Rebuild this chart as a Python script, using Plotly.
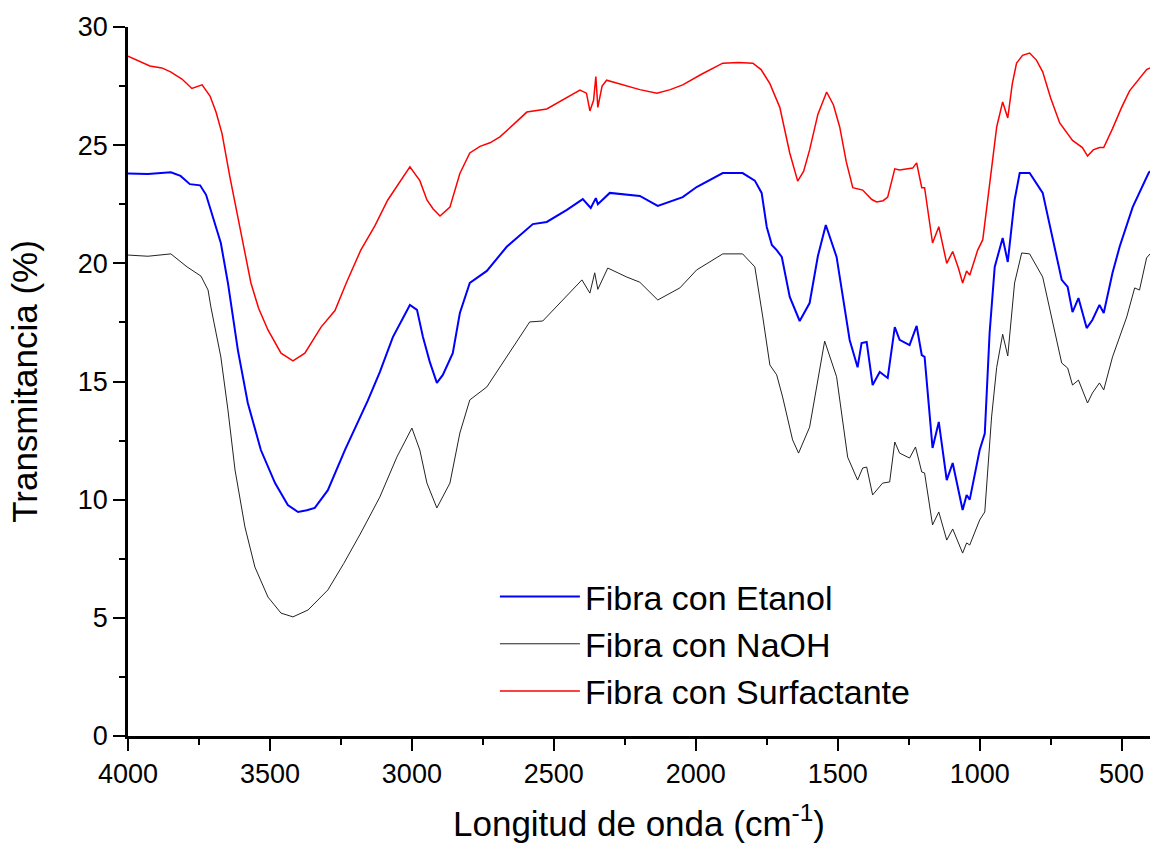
import plotly.graph_objects as go

# Fibra con Surfactante (red)
wn_surf = [4000, 3960, 3923, 3881, 3850, 3810, 3775, 3739, 3711, 3690, 3669, 3641, 3613, 3590, 3567, 3540,
           3507, 3461, 3419, 3377, 3320, 3271, 3230, 3180, 3130, 3085, 3040, 3007, 2972, 2947, 2925, 2901,
           2866, 2831, 2796, 2760, 2725, 2690, 2640, 2595, 2525, 2470, 2408, 2385, 2373, 2360, 2352, 2345,
           2330, 2314, 2270, 2233, 2197, 2137, 2090, 2046, 1980, 1905, 1850, 1799, 1770, 1739, 1704, 1669,
           1641, 1620, 1599, 1570, 1539, 1515, 1493, 1470, 1447, 1412, 1380, 1363, 1340, 1324, 1299, 1282,
           1236, 1222, 1204, 1194, 1166, 1144, 1116, 1095, 1075, 1060, 1046, 1035, 1007, 989, 965, 940,
           919, 901, 885, 870, 849, 824, 800, 778, 750, 718, 673, 638, 620, 600, 578, 563, 532, 500, 472,
           440, 412, 400]
t_surf = [28.77, 28.55, 28.35, 28.27, 28.1, 27.8, 27.4, 27.55, 27.08, 26.4, 25.5, 23.65, 21.96, 20.5, 19.17, 18.1,
          17.18, 16.2, 15.87, 16.2, 17.3, 18.0, 19.2, 20.56, 21.6, 22.68, 23.5, 24.08, 23.5, 22.68, 22.3, 22.0,
          22.38, 23.8, 24.67, 24.95, 25.1, 25.35, 25.9, 26.4, 26.53, 26.9, 27.33, 27.2, 26.45, 26.9, 27.9, 26.6,
          27.5, 27.75, 27.6, 27.5, 27.35, 27.2, 27.35, 27.55, 28.0, 28.47, 28.5, 28.47, 28.2, 27.6, 26.6, 24.67,
          23.48, 23.9, 24.8, 26.3, 27.25, 26.7, 25.77, 24.3, 23.2, 23.1, 22.7, 22.6, 22.65, 22.8, 24.0, 23.95,
          24.03, 24.25, 23.2, 23.2, 20.86, 21.55, 20.0, 20.5, 19.8, 19.17, 19.68, 19.5, 20.56, 21.0, 23.4, 25.77,
          26.83, 26.15, 27.6, 28.47, 28.8, 28.9, 28.6, 28.1, 27.0, 25.94, 25.2, 24.9, 24.54, 24.8, 24.9, 24.9,
          25.7, 26.6, 27.3, 27.8, 28.2, 28.27]

# Fibra con Etanol (blue)
wn_etanol = [4000, 3930, 3849, 3815, 3782, 3746, 3725, 3708, 3673, 3648, 3613, 3578, 3532, 3482, 3437, 3401,
             3370, 3342, 3296, 3236, 3155, 3113, 3067, 3007, 2982, 2961, 2937, 2912, 2891, 2856, 2831, 2796,
             2736, 2666, 2574, 2525, 2454, 2398, 2370, 2352, 2345, 2303, 2243, 2197, 2134, 2046, 1997, 1905,
             1835, 1792, 1768, 1750, 1732, 1715, 1697, 1669, 1634, 1599, 1570, 1542, 1504, 1475, 1458, 1430,
             1416, 1398, 1377, 1352, 1324, 1299, 1282, 1247, 1222, 1204, 1194, 1166, 1144, 1116, 1095, 1060,
             1046, 1035, 1000, 982, 965, 947, 919, 901, 877, 859, 824, 778, 743, 711, 690, 673, 652, 623, 603,
             578, 563, 532, 507, 461, 405, 400]
t_etanol = [23.8, 23.78, 23.85, 23.7, 23.35, 23.3, 22.9, 22.26, 20.86, 19.17, 16.33, 14.09, 12.1, 10.7, 9.77, 9.48,
            9.55, 9.65, 10.4, 12.1, 14.2, 15.4, 16.88, 18.24, 18.03, 16.88, 15.83, 14.94, 15.28, 16.2, 17.9, 19.17,
            19.68, 20.7, 21.66, 21.75, 22.26, 22.72, 22.34, 22.76, 22.5, 22.98, 22.89, 22.85, 22.43, 22.8, 23.23, 23.82,
            23.82, 23.5, 22.98, 21.54, 20.78, 20.56, 20.27, 18.58, 17.56, 18.32, 20.3, 21.62, 20.27, 18.03, 16.76, 15.6,
            16.63, 16.67, 14.85, 15.4, 15.15, 17.3, 16.76, 16.54, 17.35, 16.12, 16.04, 12.19, 13.29, 10.83, 11.55, 9.56,
            10.2, 10.0, 12.1, 12.8, 17.05, 19.85, 21.07, 20.06, 22.68, 23.82, 23.82, 22.98, 21.0, 19.3, 19.0, 17.94,
            18.53, 17.26, 17.6, 18.24, 17.9, 19.6, 20.7, 22.38, 23.82, 23.9]

# Fibra con NaOH (black)
wn_naoh = [4000, 3930, 3849, 3792, 3743, 3718, 3708, 3673, 3648, 3623, 3588, 3553, 3507, 3461, 3419, 3366,
           3296, 3240, 3180, 3113, 3053, 3000, 2972, 2947, 2912, 2866, 2831, 2796, 2736, 2680, 2585, 2539,
           2479, 2401, 2373, 2356, 2345, 2310, 2243, 2197, 2134, 2056, 1997, 1905, 1835, 1792, 1764, 1739,
           1715, 1694, 1659, 1638, 1599, 1546, 1504, 1465, 1430, 1412, 1398, 1377, 1342, 1317, 1299, 1282,
           1247, 1226, 1204, 1194, 1166, 1144, 1116, 1095, 1060, 1046, 1035, 1000, 982, 958, 940, 919, 901,
           877, 852, 824, 778, 743, 711, 690, 673, 652, 620, 603, 578, 563, 532, 482, 454, 437, 412, 400]
t_naoh = [20.35, 20.3, 20.4, 19.85, 19.46, 18.87, 18.15, 16.04, 13.8, 11.26, 8.84, 7.15, 5.88, 5.2, 5.04, 5.33,
          6.18, 7.3, 8.59, 10.11, 11.8, 13.03, 12.1, 10.7, 9.65, 10.7, 12.82, 14.22, 14.77, 15.78, 17.52, 17.56,
          18.32, 19.3, 18.74, 19.6, 18.9, 19.8, 19.42, 19.2, 18.45, 18.96, 19.72, 20.4, 20.4, 19.85, 17.73, 15.7,
          15.28, 14.34, 12.53, 11.97, 13.07, 16.71, 15.2, 11.8, 10.83, 11.34, 11.38, 10.2, 10.7, 10.75, 12.44, 11.97,
          11.76, 12.23, 11.17, 11.13, 8.93, 9.48, 8.29, 8.76, 7.74, 8.17, 8.08, 9.14, 9.48, 13.5, 15.6, 17.0, 16.08,
          19.17, 20.44, 20.4, 19.42, 17.47, 15.78, 15.57, 14.85, 15.06, 14.09, 14.51, 14.94, 14.64, 16.04, 17.73, 18.96, 18.87, 20.23, 20.4]

x_ticks = [4000, 3500, 3000, 2500, 2000, 1500, 1000, 500]
y_ticks = [0, 5, 10, 15, 20, 25, 30]

FONT = "Liberation Sans, Arial, sans-serif"

fig = go.Figure()
fig.add_trace(go.Scatter(x=wn_etanol, y=t_etanol, mode="lines", name="Fibra con Etanol",
                         line=dict(color="#0000FF", width=2)))
fig.add_trace(go.Scatter(x=wn_naoh, y=t_naoh, mode="lines", name="Fibra con NaOH",
                         line=dict(color="#222222", width=1)))
fig.add_trace(go.Scatter(x=wn_surf, y=t_surf, mode="lines", name="Fibra con Surfactante",
                         line=dict(color="#FF0000", width=1.5)))

axis_common = dict(showgrid=False, zeroline=False, showline=True, linecolor="black", linewidth=2.5,
                   ticks="outside", ticklen=12, tickwidth=2, tickcolor="black",
                   tickfont=dict(family=FONT, size=27, color="black"), mirror=False)

fig.update_layout(
    width=1152, height=844,
    margin=dict(l=128, r=2, t=27, b=108),
    paper_bgcolor="white", plot_bgcolor="white",
    font=dict(family=FONT, color="black"),
    xaxis=dict(range=[4000, 400], tickvals=x_ticks,
               minor=dict(ticks="outside", ticklen=6, tickwidth=2, tickcolor="black", dtick=250),
               title=dict(text="Longitud de onda (cm<sup>-1</sup>)", font=dict(family=FONT, size=35), standoff=24),
               **axis_common),
    yaxis=dict(range=[0, 30], tickvals=y_ticks,
               minor=dict(ticks="outside", ticklen=6, tickwidth=2, tickcolor="black", dtick=2.5),
               title=dict(text="Transmitancia (%)", font=dict(family=FONT, size=35), standoff=30),
               **axis_common),
    legend=dict(x=0.359, y=0.237, xanchor="left", yanchor="top", bgcolor="rgba(0,0,0,0)",
                font=dict(family=FONT, size=34, color="black"), itemwidth=80, tracegroupgap=0),
    showlegend=True,
)

fig.write_html("out.html")
